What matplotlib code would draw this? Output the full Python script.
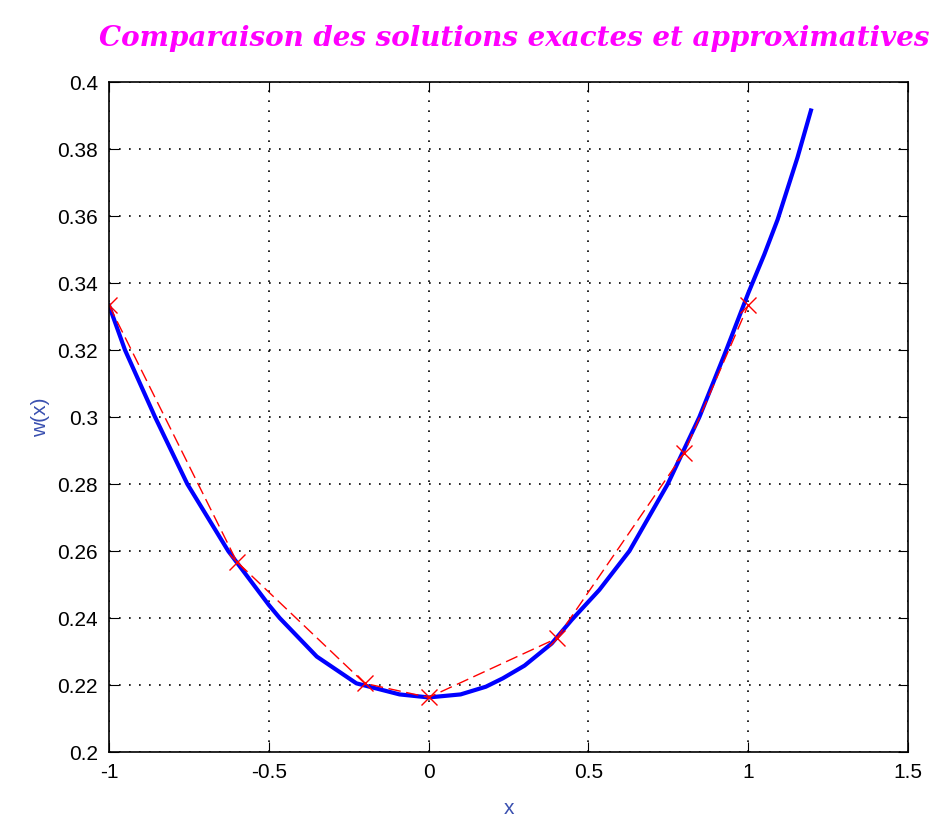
import numpy as np
import matplotlib
matplotlib.use('Agg')
from matplotlib import pyplot as plt

# exact solution
x_exact = [-1.0, -0.95, -0.856, -0.755, -0.627, -0.5, -0.466, -0.35, -0.226,
           -0.091, 0.0, 0.1, 0.179, 0.232, 0.3, 0.385, 0.448, 0.534, 0.628,
           0.748, 0.847, 0.925, 1.0, 1.05, 1.092, 1.154, 1.196]
w_exact = [0.3333, 0.320, 0.300, 0.280, 0.260, 0.2439, 0.240, 0.2285, 0.2205,
           0.2172, 0.2163, 0.2172, 0.2195, 0.2220, 0.2258, 0.2324, 0.2395, 0.2484, 0.260,
           0.280, 0.300, 0.3185, 0.3370, 0.3485, 0.359, 0.3775, 0.3915]

# approximate solution (nodes)
x_approx = [-1.0, -0.6, -0.2, 0.0, 0.4, 0.8, 1.0]
w_approx = [0.3334, 0.2568, 0.2205, 0.2163, 0.2339, 0.2894, 0.3334]

xticks = [-1, -0.5, 0, 0.5, 1, 1.5]
yticks = [0.2, 0.22, 0.24, 0.26, 0.28, 0.3, 0.32, 0.34, 0.36, 0.38, 0.4]
ytick_labels = ['0.2', '0.22', '0.24', '0.26', '0.28', '0.3', '0.32', '0.34', '0.36', '0.38', '0.4']
xtick_labels = ['-1', '-0.5', '0', '0.5', '1', '1.5']

plt.rcParams['font.family'] = ['Liberation Sans', 'DejaVu Sans']

fig = plt.figure(figsize=(9.43, 8.21), dpi=100)
ax = fig.add_axes([0.1156, 0.084, 0.8474, 0.8161])

ax.plot(x_exact, w_exact, color='#0000ff', linewidth=3.0, solid_joinstyle='round')
ax.plot(x_approx, w_approx, color='#ff0000', linestyle=(0, (9, 4)), linewidth=1.0,
        marker='x', markersize=11, markeredgewidth=1.0)

ax.set_xlim(-1, 1.5)
ax.set_ylim(0.2, 0.4)
ax.set_xticks(xticks)
ax.set_xticklabels(xtick_labels)
ax.set_yticks(yticks)
ax.set_yticklabels(ytick_labels)
ax.tick_params(direction='in', top=True, right=True, labelsize=15, length=7, pad=8)
ax.grid(True, linestyle=(0, (1, 5)), color='black', linewidth=1.2)
for s in ax.spines.values():
    s.set_linewidth(1.2)

ax.set_xlabel('x', color='#3a50b0', fontsize=15, labelpad=12)
ax.set_ylabel('w(x)', color='#3a50b0', fontsize=15, labelpad=5)
fig.text(514 / 943, 1 - 38 / 821, 'Comparaison des solutions exactes et approximatives',
         color='#ff00ff', fontsize=20, fontstyle='italic', fontweight='bold',
         family='DejaVu Serif', ha='center', va='center')

fig.savefig('out.png', dpi=100)
